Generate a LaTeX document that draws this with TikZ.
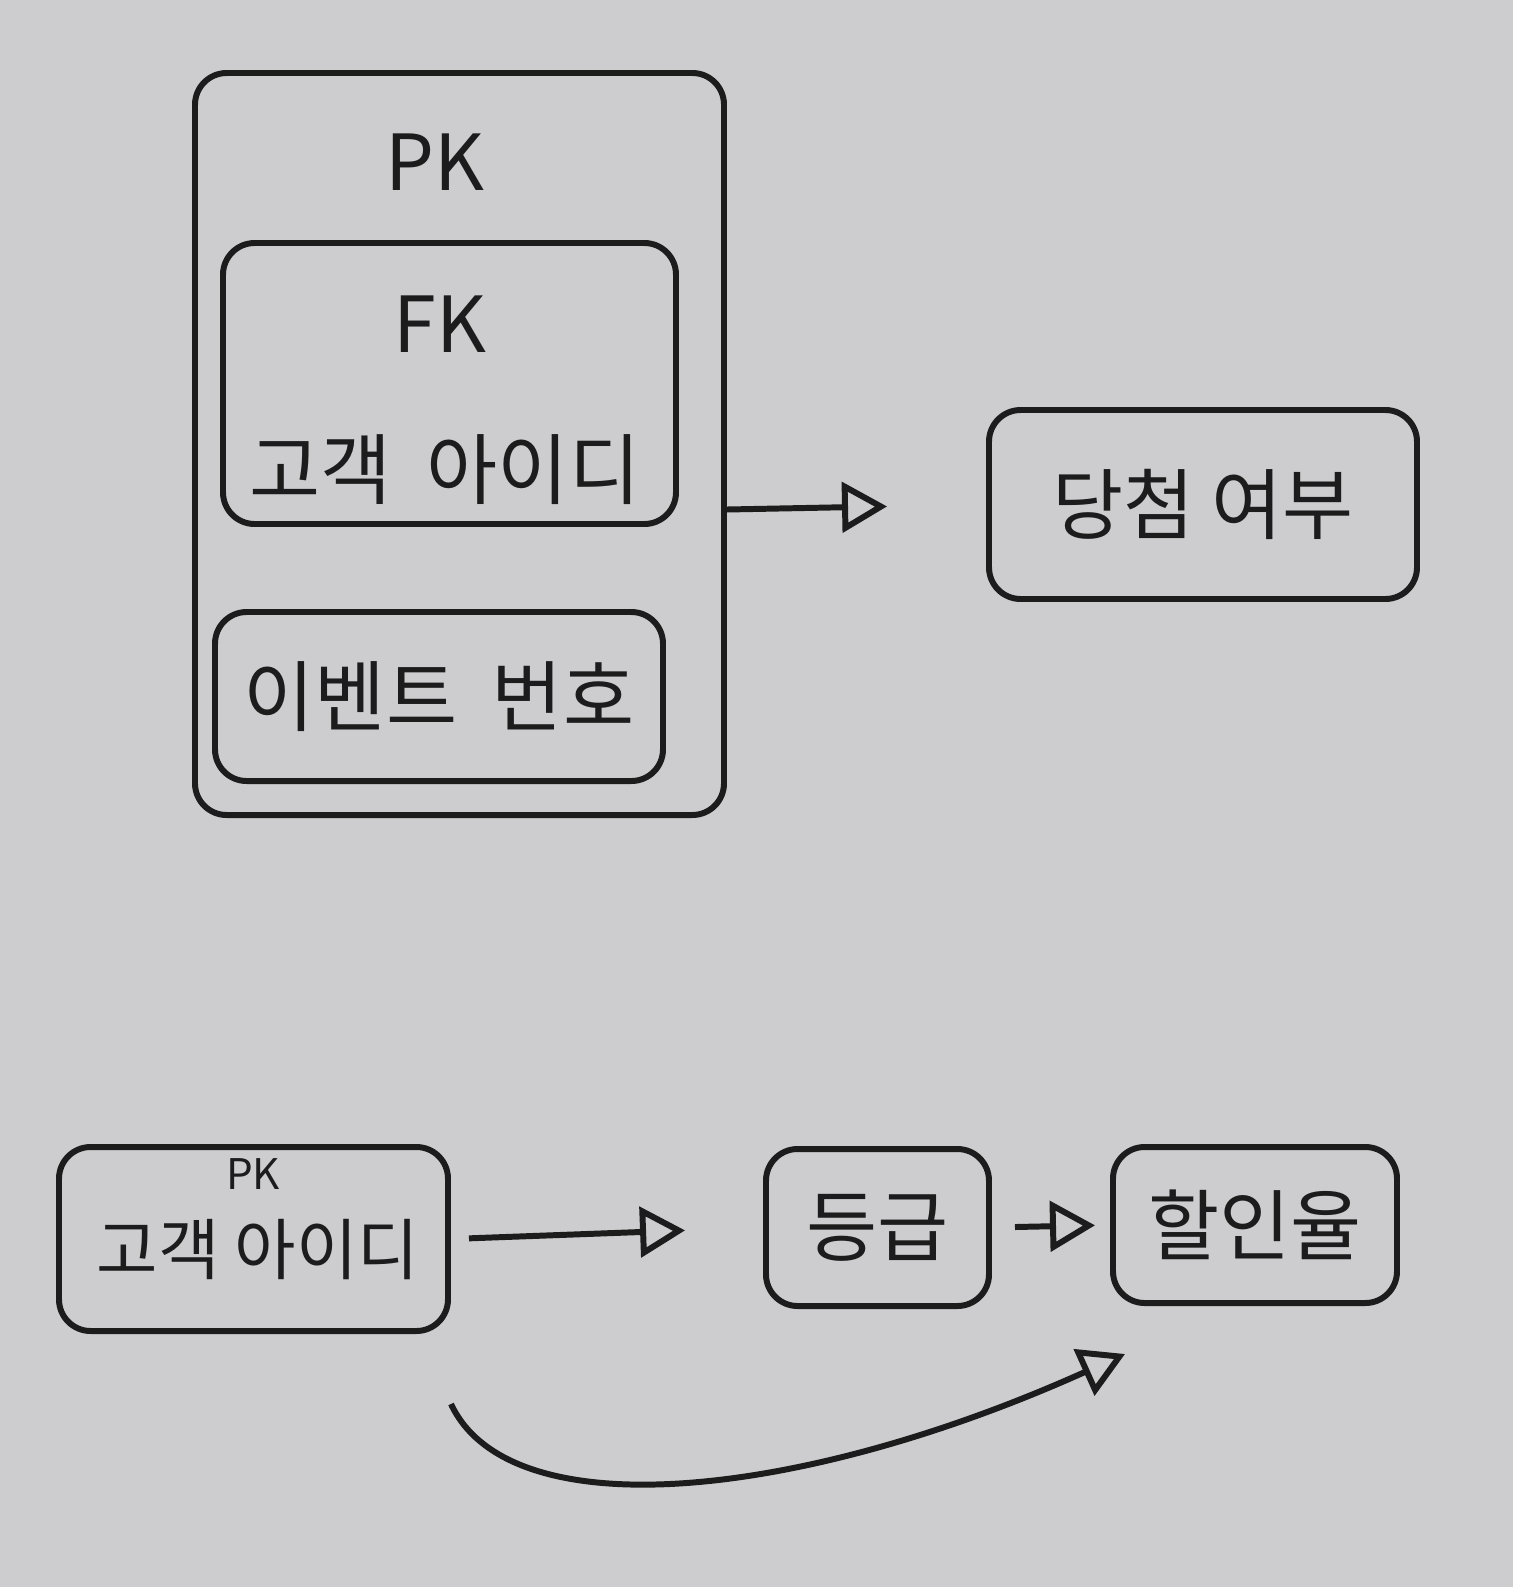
\documentclass[tikz,border=0pt]{standalone}
\usepackage{fontspec}
\setmainfont{Noto Sans CJK KR}
\usepackage{xcolor}
\usepackage{tikz}
\usetikzlibrary{arrows.meta, positioning, calc}

\definecolor{paper}{RGB}{205,205,208}
\definecolor{pen}{RGB}{28,28,28}

\begin{document}
\begin{tikzpicture}[
    box/.style={draw=pen, line width=1.7pt, rounded corners=9pt, inner sep=0pt},
    big/.style={font=\fontsize{22}{26}\selectfont, text=pen},
    mid/.style={font=\fontsize{19}{23}\selectfont, text=pen},
    tiny/.style={font=\fontsize{12}{14}\selectfont, text=pen},
    arrow/.style={draw=pen, line width=1.7pt, -{Triangle[open, length=4.5mm, width=5mm, line width=1.7pt]}}
  ]
  % ---- paper ----
  \fill[paper] (0,0) rectangle (15.13,-15.87);
  \useasboundingbox (0,0) rectangle (15.13,-15.87);
  % ---- composite key (top) ----
  \node[box, minimum width=5.29cm, minimum height=7.42cm] (outer) at (4.595,-4.44) {};
  \node[big] (pk) at (4.35,-1.62) {PK};
  \node[box, minimum width=4.53cm, minimum height=2.81cm] (fkbox) at (4.495,-3.835) {};
  \node[big] (fk) at (4.40,-3.24) {FK};
  \node[big] (custid) at (4.45,-4.70) {고객\ \ 아이디};
  \node[box, big, minimum width=4.48cm, minimum height=1.69cm] (event) at (4.39,-6.965) {이벤트\ \ 번호};
  \node[box, big, minimum width=4.28cm, minimum height=1.89cm] (win) at (12.03,-5.045) {당첨 여부};
  \draw[arrow, shorten >=0.99cm] ([yshift=-0.5mm]outer.east |- win.west) -- (win.west);
  % ---- customer / grade / discount (bottom) ----
  \node[box, minimum width=3.89cm, minimum height=1.84cm] (cust) at (2.535,-12.39) {};
  \node[tiny] (pk2) at (2.53,-11.74) {PK};
  \node[mid] (custid2) at (2.58,-12.50) {고객 아이디};
  \node[box, big, minimum width=2.23cm, minimum height=1.57cm] (grade) at (8.775,-12.275) {등급};
  \node[box, big, minimum width=2.84cm, minimum height=1.56cm] (rate) at (12.55,-12.25) {할인율};
  \draw[arrow, shorten <=0.18cm, shorten >=0.78cm] (cust.east) -- (grade.west);
  \draw[arrow, shorten <=0.23cm, shorten >=0.15cm] (grade.east) -- (rate.west);
  \draw[arrow] ([yshift=-7mm]cust.south east) .. controls (5.1,-15.3) and (8.0,-15.0) .. ([xshift=1.5mm, yshift=-4.8mm]rate.south west);
\end{tikzpicture}
\end{document}
